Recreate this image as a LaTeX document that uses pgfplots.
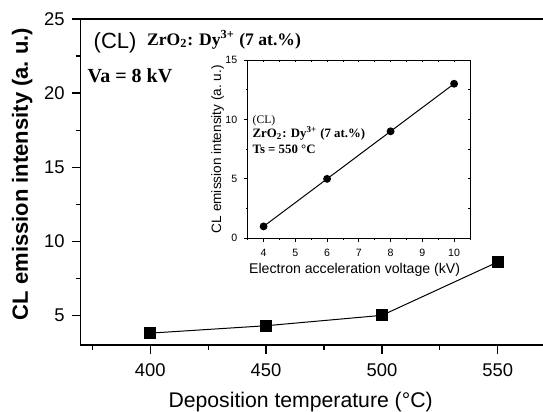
\documentclass[border=0pt]{standalone}
\usepackage{fontspec}
\setmainfont{Liberation Serif}
\setsansfont{Liberation Sans}
\usepackage{pgfplots}
\pgfplotsset{compat=1.18}
\begin{document}
\begin{tikzpicture}
\useasboundingbox (-40.35pt,-33.5pt) rectangle (231.15pt,172.5pt);
\clip (-40.35pt,-33.5pt) rectangle (231.15pt,172.5pt);
\begin{axis}[
  at={(0pt,0pt)}, anchor=south west,
  scale only axis, width=237.5pt, height=163pt,
  xmin=370, xmax=575, ymin=3, ymax=25,
  xtick={400,450,500,550}, minor xtick={375,425,475,525},
  ytick={5,10,15,20,25}, minor ytick={7.5,12.5,17.5,22.5},
  xtick pos=left, ytick pos=left, tick align=outside,
  major tick length=4.5pt, minor tick length=2.5pt,
  axis line style={line width=0.65pt},
  every tick/.style={black, line width=0.6pt},
  tick label style={font=\fontsize{9.2}{11}\sffamily},
  xticklabel style={yshift=-1.5pt},
  /pgf/number format/assume math mode=true,
  xlabel={Deposition temperature (°C)},
  ylabel={CL emission intensity (a.\ u.)},
  xlabel style={font=\fontsize{10.6}{12}\sffamily, at={(axis description cs:0.463,-0.193)}, anchor=base},
  ylabel style={font=\fontsize{11}{13}\sffamily\bfseries, at={(axis description cs:-0.111,0.5245)}, anchor=base},
]
\addplot[black, line width=0.5pt, mark=square*, mark size=2.7pt] coordinates {(400,3.8) (450,4.3) (500,5.0) (550,8.6)};
\end{axis}
\node[anchor=base west, inner sep=0pt, font=\fontsize{11}{13}\sffamily] at (6.3pt,148.4pt) {(CL)};
\node[anchor=base west, inner sep=0pt, font=\fontsize{8.8}{10}\bfseries] at (33pt,149.6pt) {ZrO\textsubscript{2}: Dy\textsuperscript{3+} (7 at.\%)};
\node[anchor=base west, inner sep=0pt, font=\fontsize{10}{12}\bfseries] at (3.3pt,131.2pt) {Va = 8 kV};
\begin{axis}[
  at={(83.5pt,53.35pt)}, anchor=south west,
  scale only axis, width=111.15pt, height=89.15pt,
  xmin=3.5, xmax=10.5, ymin=0, ymax=15,
  xtick={4,5,...,10}, minor xtick={3.5,4.5,...,10.5},
  ytick={0,5,10,15}, minor ytick={2.5,7.5,12.5},
  xtick pos=left, ytick pos=left, tick align=outside,
  major tick length=1.7pt, minor tick length=1pt,
  axis line style={line width=0.45pt},
  every tick/.style={black, line width=0.45pt},
  tick label style={font=\fontsize{5.3}{6}\sffamily},
  /pgf/number format/assume math mode=true,
  xlabel={Electron acceleration voltage (kV)},
  ylabel={CL emission intensity (a.\ u.)},
  xlabel style={font=\fontsize{7.05}{8}\sffamily, at={(axis description cs:0.481,-0.2)}, anchor=base},
  ylabel style={font=\fontsize{6.8}{8}\sffamily, at={(axis description cs:-0.12,0.5)}, anchor=base},
]
\addplot[black, line width=0.5pt, mark=*, mark size=1.7pt] coordinates {(4,1) (6,5) (8,9) (10,13)};
\end{axis}
\begin{axis}[
  at={(83.5pt,53.35pt)}, anchor=south west,
  scale only axis, width=111.15pt, height=89.15pt,
  xmin=3.5, xmax=10.5, ymin=0, ymax=15,
  xtick={3.5,4,...,10.5}, ytick={0,2.5,...,15},
  xticklabels={}, yticklabels={},
  xtick pos=right, ytick pos=right, tick align=inside,
  major tick length=1.2pt,
  axis line style={line width=0.45pt},
  every tick/.style={black, line width=0.45pt},
]
\end{axis}
\node[anchor=base west, inner sep=0pt, font=\fontsize{5.8}{7}\selectfont] at (85.8pt,110.5pt) {(CL)};
\node[anchor=base west, inner sep=0pt, font=\fontsize{6.4}{7}\bfseries] at (85.8pt,103.85pt) {ZrO\textsubscript{2}: Dy\textsuperscript{3+} (7 at.\%)};
\node[anchor=base west, inner sep=0pt, font=\fontsize{6.4}{7}\bfseries] at (85.8pt,95.85pt) {Ts = 550 °C};
\end{tikzpicture}
\end{document}
